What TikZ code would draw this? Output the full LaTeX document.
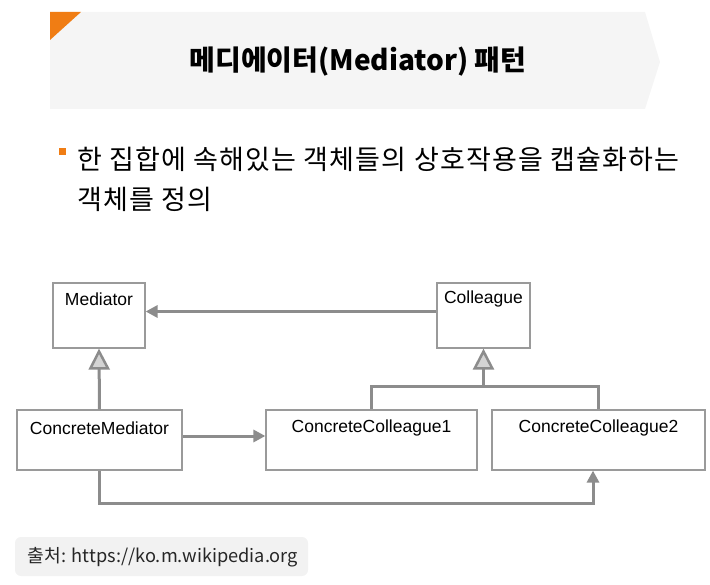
\documentclass[tikz,border=0pt]{standalone}
\usepackage{fontspec}
\setmainfont{Liberation Sans}
\newfontfamily\kr{Noto Sans CJK KR}
\newfontfamily\krw[LetterSpace=4.5]{Noto Sans CJK KR}
\usetikzlibrary{arrows.meta}
\definecolor{banfill}{HTML}{F5F5F5}
\definecolor{orng}{HTML}{F07D14}
\definecolor{lnk}{HTML}{8C8C8C}
\definecolor{boxln}{HTML}{9A9A9A}
\definecolor{srcfill}{HTML}{F2F2F2}
\definecolor{trifill}{HTML}{D4D4D4}
\tikzset{
  umlbox/.style={draw=boxln, line width=1.2pt, fill=white, inner sep=0pt},
  lbl/.style={font=\fontsize{17.5}{19}\selectfont, text=black},
  assoc/.style={draw=lnk, line width=3pt, -{Triangle[length=12pt,width=12pt]}},
  inherit/.style={draw=lnk, line width=3pt, -{Triangle[length=21pt,width=21pt,line width=2.5pt,fill=trifill]}},
  plain/.style={draw=lnk, line width=3pt},
}
\begin{document}
\begin{tikzpicture}[x=1pt,y=-1pt]
\useasboundingbox (0,0) rectangle (710,585);
% banner
\fill[banfill] (50,12) -- (645,12) -- (660,62) -- (645,109) -- (50,109) -- cycle;
\fill[orng] (50,12) -- (81,12) -- (50,40) -- cycle;
\node[font={\kr\bfseries\fontsize{28}{32}\selectfont}] (title) at (358,62) {메디에이터(Mediator) 패턴};
% bullet
\fill[orng] (59,148) rectangle (66,155);
\node[anchor=base west, inner sep=0pt, font={\krw\fontsize{27}{30}\selectfont}] (bl1) at (77,170) {한 집합에 속해있는 객체들의 상호작용을 캡슐화하는};
\node[anchor=base west, inner sep=0pt, font={\krw\fontsize{27}{30}\selectfont}] (bl2) at (77,210) {객체를 정의};
% boxes
\node[umlbox, minimum width=92pt, minimum height=65pt,
  label={[lbl,anchor=center,yshift=-17pt]north:Mediator}] (med) at (99,315.5) {};
\node[umlbox, minimum width=93pt, minimum height=65pt,
  label={[lbl,anchor=center,yshift=-17pt]north:Colleague}] (col) at (483.5,315.5) {};
\node[umlbox, minimum width=165pt, minimum height=60pt,
  label={[lbl,anchor=center,yshift=-19pt]north:ConcreteMediator}] (cm) at (99.5,440) {};
\node[umlbox, minimum width=211pt, minimum height=60pt,
  label={[lbl,anchor=center,yshift=-19pt]north:ConcreteColleague1}] (cc1) at (371.5,440) {};
\node[umlbox, minimum width=213pt, minimum height=60pt,
  label={[lbl,anchor=center,yshift=-19pt]north:ConcreteColleague2}] (cc2) at (598.5,440) {};
% connectors
\draw[assoc] ([yshift=4pt]col.west) -- ([yshift=4pt]med.east);
\draw[inherit] (cm.north) -- (med.south);
\coordinate (j) at (483.5,387);
\draw[plain] (cc1.north) |- (j) -| (cc2.north);
\draw[inherit] (j) -- (col.south);
\draw[assoc] ([yshift=4pt]cm.east) -- ([yshift=4pt]cc1.west);
\coordinate (b) at (99.5,503);
\draw[assoc] (cm.south) -- (b) -| ([xshift=-5.5pt]cc2.south);
% source
\node[fill=srcfill, rounded corners=6pt, minimum width=293pt, minimum height=39pt, inner sep=0pt] (src) at (161.5,556.5) {};
\node[font={\kr\fontsize{18.2}{20}\selectfont}, text={black!85}] (srct) at (163,557) {출처: https://ko.m.wikipedia.org};
\end{tikzpicture}
\end{document}
